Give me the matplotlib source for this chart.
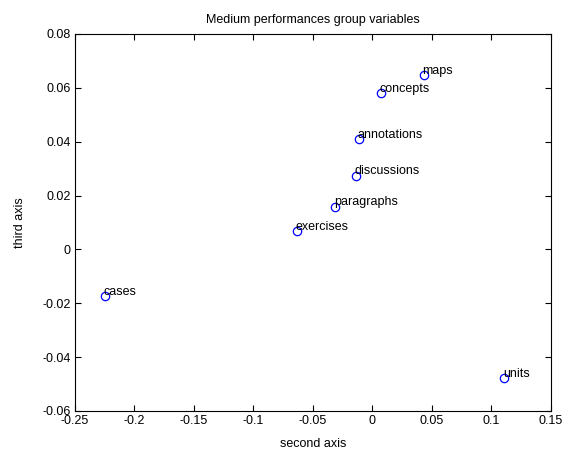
import matplotlib
matplotlib.use("Agg")
import matplotlib.pyplot as plt

labels = ["maps", "concepts", "annotations", "discussions", "paragraphs",
          "exercises", "cases", "units"]
second_axis = [0.0433, 0.0069, -0.0114, -0.0141, -0.0311, -0.0637, -0.2248, 0.1109]
third_axis = [0.0648, 0.0582, 0.0409, 0.0274, 0.0159, 0.0069, -0.0172, -0.0478]

plt.rcParams['font.family'] = ['Liberation Sans', 'DejaVu Sans']
fig = plt.figure(figsize=(5.71, 4.51), dpi=100)
ax = fig.add_axes([0.131, 0.0887, 0.834, 0.836])

ax.plot(second_axis, third_axis, 'o', markerfacecolor='none',
        markeredgecolor='blue', markersize=6, markeredgewidth=0.9)
for lab, x, y in zip(labels, second_axis, third_axis):
    ax.annotate(lab, (x, y), xytext=(-1, 3), textcoords='offset points',
                ha='left', va='center', fontsize=9)

ax.set_xlim(-0.25, 0.15)
ax.set_ylim(-0.06, 0.08)
ax.set_xticks([-0.25, -0.2, -0.15, -0.1, -0.05, 0, 0.05, 0.1, 0.15])
ax.set_xticklabels(["-0.25", "-0.2", "-0.15", "-0.1", "-0.05", "0", "0.05", "0.1", "0.15"])
ax.set_yticks([-0.06, -0.04, -0.02, 0, 0.02, 0.04, 0.06, 0.08])
ax.set_yticklabels(["-0.06", "-0.04", "-0.02", "0", "0.02", "0.04", "0.06", "0.08"])
ax.tick_params(direction='in', top=True, right=True, labelsize=9, length=4, width=0.8, pad=3)
for s in ax.spines.values():
    s.set_linewidth(0.8)
ax.set_xlabel("second axis", fontsize=9, labelpad=8)
ax.set_ylabel("third axis", fontsize=9, labelpad=12)
ax.set_title("Medium performances group variables", fontsize=9, pad=8)

fig.savefig("out.png", dpi=100)
